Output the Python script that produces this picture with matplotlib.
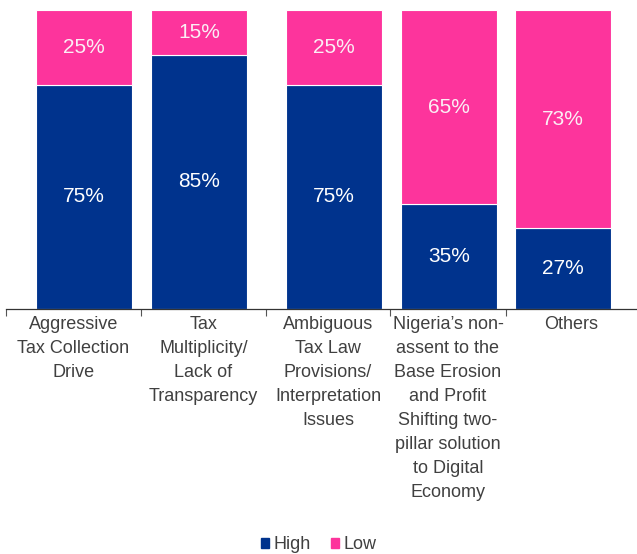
import matplotlib
matplotlib.use("Agg")
import matplotlib.pyplot as plt
from matplotlib.patches import Patch

# -----------------------------
# data
# -----------------------------
categories = [
    "Aggressive\nTax Collection\nDrive",
    "Tax\nMultiplicity/\nLack of\nTransparency",
    "Ambiguous\nTax Law\nProvisions/\nInterpretation\nIssues",
    "Nigeria\u2019s non-\nassent to the\nBase Erosion\nand Profit\nShifting two-\npillar solution\nto Digital\nEconomy",
    "Others",
]
high = [75, 85, 75, 35, 27]
low = [25, 15, 25, 65, 73]

# -----------------------------
# layout (x in pixel-like units)
# -----------------------------
slot_edges = [6, 141, 266, 390, 506, 637]
bar_centers = [84, 199, 334, 449, 563]
bar_width = 96

BLUE = "#00338D"
PINK = "#FD349C"
TEXT = "#404040"

plt.rcParams["font.family"] = ["Liberation Sans", "DejaVu Sans"]

fig = plt.figure(figsize=(6.37, 5.54), dpi=100)
ax = fig.add_axes([6 / 637, 245 / 554, 631 / 637, 299 / 554])

ax.bar(bar_centers, high, width=bar_width, color=BLUE, edgecolor="white", linewidth=0.8)
ax.bar(bar_centers, low, width=bar_width, bottom=high, color=PINK, edgecolor="white", linewidth=0.8)

for xc, h, l in zip(bar_centers, high, low):
    ax.text(xc, h / 2, f"{h}%", ha="center", va="center", color="white", fontsize=15)
    ax.text(xc, h + l / 2, f"{l}%", ha="center", va="center", color="#fbeef5", fontsize=15)

ax.set_xlim(slot_edges[0], slot_edges[-1])
ax.set_ylim(0, 100)

label_pos = [(a + b) / 2 for a, b in zip(slot_edges[:-1], slot_edges[1:])]
ax.set_xticks(label_pos)
ax.set_xticklabels(categories, color=TEXT, fontsize=13, linespacing=1.54, va="top")
ax.tick_params(axis="x", which="major", length=0, pad=5)
ax.set_xticks(slot_edges[:-1], minor=True)
ax.tick_params(axis="x", which="minor", length=5, width=0.8, color="#555555", direction="out")
ax.set_yticks([])

for s in ["top", "right", "left"]:
    ax.spines[s].set_visible(False)
ax.spines["bottom"].set_color("#333333")
ax.spines["bottom"].set_linewidth(0.9)

handles = [Patch(color=BLUE, label="High"), Patch(color=PINK, label="Low")]
fig.legend(handles=handles, loc="lower center", bbox_to_anchor=(0.5, -0.028), ncol=2,
           frameon=False, handlelength=0.45, handleheight=0.45, handletextpad=0.25,
           columnspacing=1.1, labelcolor=TEXT, prop={"size": 13})

fig.savefig("out.png", dpi=100)
